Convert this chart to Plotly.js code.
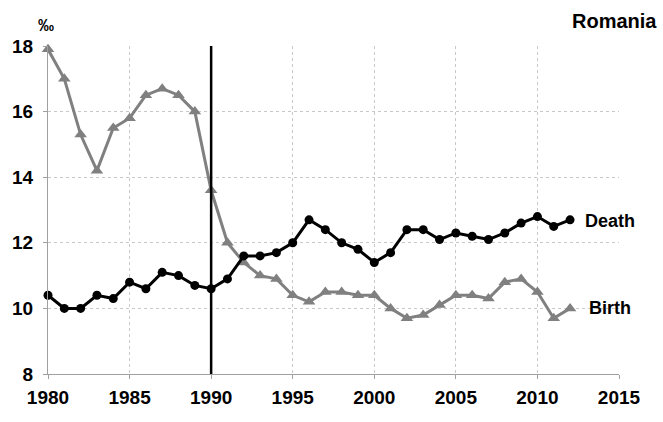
<!DOCTYPE html>
<html><head><meta charset="utf-8">
<script src="https://cdn.plot.ly/plotly-3.0.1.min.js"></script>
<style>html,body{margin:0;padding:0;background:#fff}#chart{width:663px;height:422px}</style>
</head><body><div id="chart"></div>
<script>
const years = [1980,1981,1982,1983,1984,1985,1986,1987,1988,1989,1990,1991,1992,1993,1994,1995,1996,1997,1998,1999,2000,2001,2002,2003,2004,2005,2006,2007,2008,2009,2010,2011,2012];
const death = [10.4,10.0,10.0,10.4,10.3,10.8,10.6,11.1,11.0,10.7,10.6,10.9,11.6,11.6,11.7,12.0,12.7,12.4,12.0,11.8,11.4,11.7,12.4,12.4,12.1,12.3,12.2,12.1,12.3,12.6,12.8,12.5,12.7];
const birth = [17.9,17.0,15.3,14.2,15.5,15.8,16.5,16.7,16.5,16.0,13.6,12.0,11.4,11.0,10.9,10.4,10.2,10.5,10.5,10.4,10.4,10.0,9.7,9.8,10.1,10.4,10.4,10.3,10.8,10.9,10.5,9.7,10.0];
const xTicks = [1980,1985,1990,1995,2000,2005,2010,2015];
const yTicks = [8,10,12,14,16,18];
const markerYear = 1990;

const fam = 'Liberation Sans, Arial, sans-serif';
const traces = [
  {x:years, y:birth, mode:'lines+markers', name:'Birth', line:{color:'#808080', width:3}, marker:{symbol:'triangle-up', size:11, color:'#808080'}, cliponaxis:false},
  {x:years, y:death, mode:'lines+markers', name:'Death', line:{color:'#000', width:3}, marker:{symbol:'circle', size:9, color:'#000'}, cliponaxis:false}
];
const axisCommon = {showgrid:true, gridcolor:'#c8c8c8', griddash:'3px,3px', gridwidth:1,
    zeroline:false, showline:true, linecolor:'#a0a0a0', linewidth:1, ticks:'outside', ticklen:4, tickcolor:'#a0a0a0',
    tickfont:{family:fam, size:19, color:'#000'}};
const layout = {
  width:663, height:422, margin:{l:48, r:44, t:46, b:48},
  paper_bgcolor:'#fff', plot_bgcolor:'#fff', showlegend:false,
  font:{family:fam, size:16, color:'#000'},
  xaxis:Object.assign({range:[1980,2015], tickvals:xTicks, ticktext:xTicks.map(v=>'<b>'+v+'</b>'), ticklabelstandoff:2}, axisCommon),
  yaxis:Object.assign({range:[8,18], tickvals:yTicks, ticktext:yTicks.map(v=>'<b>'+v+'</b>'), ticklabelstandoff:6}, axisCommon),
  shapes:[{type:'line', xref:'x', yref:'y', x0:markerYear, x1:markerYear, y0:8, y1:18, line:{color:'#000', width:2.5}}],
  annotations:[
    {xref:'paper', yref:'paper', x:1.0, y:1.0, xshift:40, yshift:25, xanchor:'right', yanchor:'middle', text:'<b>Romania</b>', showarrow:false, font:{family:fam, size:20, color:'#000'}},
    {xref:'paper', yref:'paper', x:0, y:1.0, xshift:-2, yshift:21, xanchor:'center', yanchor:'middle', text:'<b>‰</b>', showarrow:false, font:{family:fam, size:16, color:'#000'}},
    {xref:'x', yref:'y', x:years[years.length-1], y:death[death.length-1], xshift:13, yshift:-1, xanchor:'left', yanchor:'middle', text:'<b>Death</b>', showarrow:false, font:{family:fam, size:18, color:'#000'}},
    {xref:'x', yref:'y', x:years[years.length-1], y:birth[birth.length-1], xshift:17, yshift:0, xanchor:'left', yanchor:'middle', text:'<b>Birth</b>', showarrow:false, font:{family:fam, size:18, color:'#000'}}
  ]
};
Plotly.newPlot('chart', traces, layout, {displayModeBar:false, staticPlot:true});
</script></body></html>
